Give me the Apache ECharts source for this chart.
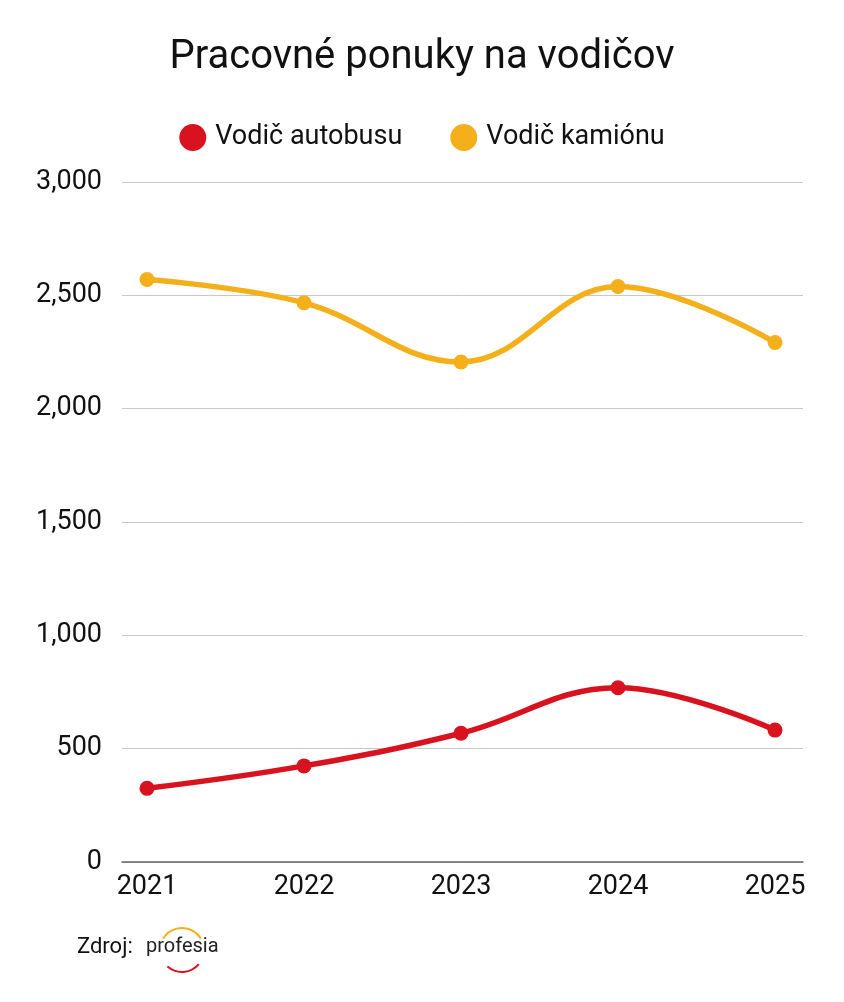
<!DOCTYPE html>
<html>
<head>
<meta charset="utf-8">
<script src="https://cdn.jsdelivr.net/npm/echarts@6/dist/echarts.min.js"></script>
<style>
  html, body { margin: 0; padding: 0; background: #fff; }
  #main { width: 844px; height: 1002px; }
</style>
</head>
<body>
<div id="main"></div>
<script>
// data
const years = ['2021', '2022', '2023', '2024', '2025'];
const busDrivers = [325, 424, 568, 769, 582];
const truckDrivers = [2570, 2467, 2206, 2539, 2292];
const yTicks = [0, 500, 1000, 1500, 2000, 2500, 3000];

const RED = '#d9121f';
const YELLOW = '#f3b01b';
const FONT = 'Roboto, "Noto Sans", sans-serif';

var chart = echarts.init(document.getElementById('main'));

// two grids: the wide one carries the gridlines, the narrow one the data
var option = {
  backgroundColor: '#fff',
  textStyle: { fontFamily: FONT },
  title: {
    text: 'Pracovné ponuky na vodičov',
    left: 'center',
    top: 33,
    textStyle: { fontFamily: FONT, fontSize: 40, fontWeight: 'normal', color: '#111' }
  },
  legend: {
    top: 119,
    left: 'center',
    icon: 'circle',
    itemWidth: 27,
    itemHeight: 27,
    itemGap: 48,
    textStyle: { fontFamily: FONT, fontSize: 27, color: '#111', padding: [0, 0, 0, 4] },
    data: ['Vodič autobusu', 'Vodič kamiónu']
  },
  grid: [
    { left: 122, right: 41, top: 182, bottom: 140 },
    { left: 147, right: 69, top: 182, bottom: 140 }
  ],
  xAxis: [
    {
      gridIndex: 0,
      type: 'category',
      data: years,
      axisLine: { lineStyle: { color: '#666', width: 1.5 } },
      axisTick: { show: false },
      axisLabel: { show: false },
      splitLine: { show: false }
    },
    {
      gridIndex: 1,
      type: 'category',
      boundaryGap: false,
      data: years,
      axisLine: { show: false },
      axisTick: { show: false },
      axisLabel: { fontFamily: FONT, fontSize: 27, color: '#111', margin: 12 }
    }
  ],
  yAxis: [
    {
      gridIndex: 0,
      type: 'value',
      min: yTicks[0],
      max: yTicks[yTicks.length - 1],
      interval: 500,
      axisLine: { show: false },
      axisTick: { show: false },
      axisLabel: {
        fontFamily: FONT, fontSize: 27, color: '#111', margin: 20,
        formatter: function (v) { return v.toLocaleString('en-US'); }
      },
      splitLine: { lineStyle: { color: '#c8c8c8', width: 1 } }
    },
    {
      gridIndex: 1,
      type: 'value',
      min: yTicks[0],
      max: yTicks[yTicks.length - 1],
      interval: 500,
      show: false,
      splitLine: { show: false }
    }
  ],
  series: [
    {
      name: 'Vodič autobusu',
      type: 'line',
      xAxisIndex: 1,
      yAxisIndex: 1,
      data: busDrivers,
      smooth: 0.4,
      symbol: 'circle',
      symbolSize: 15,
      itemStyle: { color: RED },
      lineStyle: { color: RED, width: 5.5 }
    },
    {
      name: 'Vodič kamiónu',
      type: 'line',
      xAxisIndex: 1,
      yAxisIndex: 1,
      data: truckDrivers,
      smooth: 0.4,
      symbol: 'circle',
      symbolSize: 15,
      itemStyle: { color: YELLOW },
      lineStyle: { color: YELLOW, width: 5.5 }
    }
  ],
  graphic: [
    {
      type: 'text',
      left: 77,
      top: 936,
      style: { text: 'Zdroj:', font: '22px ' + FONT, fill: '#111' }
    },
    {
      type: 'text',
      left: 146,
      top: 937,
      style: { text: 'profesia', font: '20px ' + FONT, fill: '#222' }
    },
    // logo arcs
    {
      type: 'arc',
      shape: { cx: 182, cy: 950, r: 22, startAngle: -2.6, endAngle: -0.55 },
      style: { stroke: YELLOW, lineWidth: 2, fill: null }
    },
    {
      type: 'arc',
      shape: { cx: 182, cy: 950, r: 22, startAngle: 0.7, endAngle: 2.3 },
      style: { stroke: RED, lineWidth: 2, fill: null }
    }
  ]
};

option && chart.setOption(option);
</script>
</body>
</html>
